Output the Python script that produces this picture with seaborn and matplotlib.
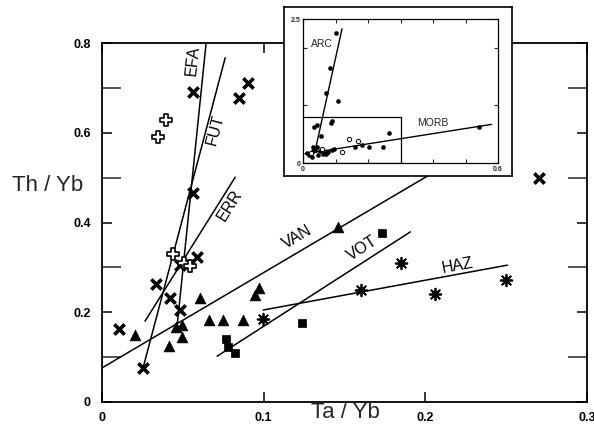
import numpy as np
import matplotlib
matplotlib.use("Agg")
import matplotlib.pyplot as plt
import seaborn as sns

# ---- main diagram: Th/Yb versus Ta/Yb ----
cross_x = [0.0105, 0.0255, 0.0334, 0.0420, 0.0480, 0.0480, 0.0590, 0.0565, 0.0565, 0.0848, 0.0904, 0.2706]
cross_y = [0.163, 0.076, 0.263, 0.232, 0.205, 0.305, 0.323, 0.466, 0.690, 0.677, 0.711, 0.500]

opencross_x = [0.0347, 0.0396, 0.0440, 0.0505, 0.0545]
opencross_y = [0.590, 0.628, 0.330, 0.310, 0.302]

tri_x = [0.0204, 0.0415, 0.0495, 0.0458, 0.0495, 0.0607, 0.0662, 0.0749, 0.0873, 0.0947, 0.0972, 0.1460]
tri_y = [0.149, 0.125, 0.145, 0.167, 0.172, 0.232, 0.183, 0.183, 0.183, 0.238, 0.254, 0.390]

sq_x = [0.0768, 0.0780, 0.0823, 0.1238, 0.1733]
sq_y = [0.140, 0.123, 0.109, 0.176, 0.377]

star_x = [0.0997, 0.1600, 0.1850, 0.2060, 0.2500]
star_y = [0.185, 0.250, 0.310, 0.241, 0.272]

# trend lines: name, (x0, x1), (y0, y1), label position
trend_names = ["EFA", "FUT", "ERR", "VAN", "VOT", "HAZ"]
trend_x = [(0.0464, 0.0644), (0.0254, 0.0762), (0.0266, 0.0824), (0.0, 0.21), (0.0712, 0.1907), (0.0997, 0.2508)]
trend_y = [(0.167, 0.800), (0.076, 0.767), (0.180, 0.501), (0.076, 0.522), (0.102, 0.379), (0.205, 0.305)]
label_x = [0.0560, 0.0700, 0.0790, 0.1210, 0.1610, 0.2200]
label_y = [0.760, 0.606, 0.439, 0.368, 0.343, 0.303]

x_ticks = [0, 0.1, 0.2, 0.3]
x_ticklabels = ["0", "0.1", "0.2", "0.3"]
y_ticks = [0, 0.2, 0.4, 0.6, 0.8]
y_ticklabels = ["0", "0.2", "0.4", "0.6", "0.8"]

# ---- inset: full range with ARC and MORB trends ----
in_fill_x = [0.100, 0.083, 0.070, 0.107, 0.090, 0.085, 0.042, 0.035, 0.055, 0.266, 0.543, 0.180,
             0.160, 0.204, 0.247, 0.096, 0.088, 0.078, 0.068, 0.052, 0.042, 0.032, 0.037, 0.011,
             0.019, 0.027, 0.047, 0.060, 0.072, 0.030]
in_fill_y = [2.25, 1.65, 1.22, 1.08, 0.73, 0.70, 0.66, 0.62, 0.47, 0.52, 0.63, 0.31,
             0.27, 0.27, 0.28, 0.25, 0.23, 0.19, 0.17, 0.20, 0.28, 0.27, 0.23, 0.17,
             0.14, 0.11, 0.14, 0.16, 0.15, 0.20]
in_open_x = [0.143, 0.170, 0.121, 0.057, 0.026]
in_open_y = [0.41, 0.39, 0.19, 0.25, 0.17]
arc_x, arc_y = (0.040, 0.120), (0.28, 2.33)
morb_x, morb_y = (0.006, 0.580), (0.16, 0.67)
zoom_box_x, zoom_box_y = (0.0, 0.3), (0.0, 0.8)

sns.set_style("ticks")
plt.rcParams["font.family"] = ["Liberation Sans", "DejaVu Sans"]
narrow = ["Liberation Sans Narrow", "Liberation Sans", "DejaVu Sans"]

fig = plt.figure(figsize=(5.94, 4.33), dpi=100)
fig.patch.set_facecolor("white")
ax = fig.add_axes([102 / 594, 31 / 433, 485 / 594, 359 / 433])
ax.set_xlim(0, 0.3)
ax.set_ylim(0, 0.8)

kw = dict(ax=ax, legend=False, zorder=4)
sns.scatterplot(x=cross_x, y=cross_y, marker="x", s=55, color="black", linewidth=2.6, **kw)
sns.scatterplot(x=opencross_x, y=opencross_y, marker="P", s=80, facecolor="white",
                edgecolor="black", linewidth=1.2, **kw)
sns.scatterplot(x=tri_x, y=tri_y, marker="^", s=60, color="black", edgecolor="black", linewidth=0.5, **kw)
sns.scatterplot(x=sq_x, y=sq_y, marker="s", s=38, color="black", edgecolor="black", linewidth=0.5, **kw)
sns.scatterplot(x=star_x, y=star_y, marker=(8, 2, 0), s=70, color="black", linewidth=1.3, **kw)

for name, xs, ys, lx, ly in zip(trend_names, trend_x, trend_y, label_x, label_y):
    sns.lineplot(x=list(xs), y=list(ys), ax=ax, color="black", linewidth=1.1, zorder=3)
    p0 = ax.transData.transform((xs[0], ys[0]))
    p1 = ax.transData.transform((xs[1], ys[1]))
    ang = np.degrees(np.arctan2(p1[1] - p0[1], p1[0] - p0[0]))
    ax.text(lx, ly, name, fontsize=11.5, rotation=ang, rotation_mode="anchor",
            ha="center", va="center", color="black")

ax.set_xticks(x_ticks)
ax.set_xticklabels(x_ticklabels, fontfamily=narrow, fontweight="bold", fontsize=9)
ax.set_yticks(y_ticks)
ax.set_yticklabels(y_ticklabels, fontfamily=narrow, fontweight="bold", fontsize=9)
ax.set_yticks([0.1, 0.3, 0.5, 0.7], minor=True)
ax.tick_params(axis="both", which="major", direction="in", length=7, width=1.1,
               top=True, right=True, pad=8, colors="black")
ax.tick_params(axis="y", which="minor", direction="in", length=14, width=1.1, left=True, right=True)
ax.tick_params(axis="x", which="major", pad=7)
for s in ax.spines.values():
    s.set_linewidth(1.3)
    s.set_color("black")

ax.set_xlabel("")
ax.set_ylabel("")
fig.text(345 / 594, 1 - 412 / 433, "Ta / Yb", fontsize=16, ha="center", va="center")
fig.text(48 / 594, 1 - 185 / 433, "Th / Yb", fontsize=16, ha="center", va="center")

# white framed panel holding the inset
box = fig.add_axes([284 / 594, 1 - 176 / 433, 228 / 594, 169 / 433])
box.set_facecolor("white")
box.set_xticks([])
box.set_yticks([])
for s in box.spines.values():
    s.set_linewidth(1.2)
    s.set_color("black")
box.set_zorder(5)

ins = fig.add_axes([303 / 594, 1 - 163 / 433, 195 / 594, 144 / 433])
ins.set_zorder(6)
ins.set_facecolor("white")
ins.set_xlim(0, 0.6)
ins.set_ylim(0, 2.5)
sns.scatterplot(x=in_fill_x, y=in_fill_y, ax=ins, marker="o", s=9, color="black",
                edgecolor="black", linewidth=0.3, legend=False, zorder=4)
sns.scatterplot(x=in_open_x, y=in_open_y, ax=ins, marker="o", s=10, facecolor="white",
                edgecolor="black", linewidth=0.7, legend=False, zorder=4)
sns.lineplot(x=list(arc_x), y=list(arc_y), ax=ins, color="black", linewidth=1.0)
sns.lineplot(x=list(morb_x), y=list(morb_y), ax=ins, color="black", linewidth=1.0)
ins.plot([zoom_box_x[0], zoom_box_x[1], zoom_box_x[1], zoom_box_x[0]],
         [zoom_box_y[1], zoom_box_y[1], zoom_box_y[0], zoom_box_y[0]], color="black", linewidth=0.9)
ins.text(0.058, 2.07, "ARC", fontsize=7.5, ha="center", va="center")
ins.text(0.40, 0.70, "MORB", fontsize=7.5, ha="center", va="center")
ins.set_xticks([0, 0.1, 0.2, 0.3, 0.4, 0.5, 0.6])
ins.set_xticklabels(["0", "", "", "", "", "", "0.6"], fontfamily=narrow, fontweight="bold", fontsize=5)
ins.set_yticks([0, 1, 2, 2.5])
ins.set_yticklabels(["0", "", "", "2.5"], fontfamily=narrow, fontweight="bold", fontsize=5)
ins.tick_params(direction="in", length=3, width=0.8, top=True, right=True, pad=2)
for s in ins.spines.values():
    s.set_linewidth(0.9)
    s.set_color("black")
ins.set_xlabel("")
ins.set_ylabel("")

fig.savefig("out.png", dpi=100)
